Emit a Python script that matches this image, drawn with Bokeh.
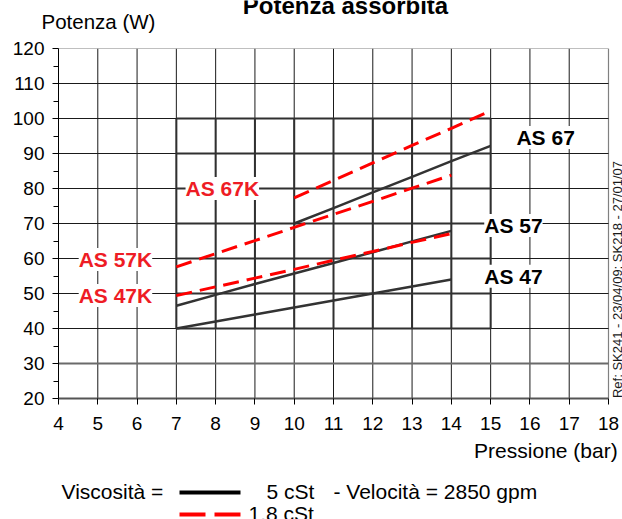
import numpy as np
from bokeh.plotting import figure
from bokeh.layouts import column
from bokeh.models import Range1d, FixedTicker, LabelSet, ColumnDataSource
from bokeh.embed import file_html
from bokeh.resources import INLINE
from bokeh.core.properties import value

# ---- data ----
p_as47 = [7, 8, 9, 10, 11, 12, 13, 14]
w_as47 = [40, 42, 44, 46, 48, 50, 52, 54]
p_as57 = [7, 8, 9, 10, 11, 12, 13, 14]
w_as57 = [46.5, 49.6, 52.7, 55.7, 58.7, 61.8, 64.9, 67.9]
p_as67 = [10, 11, 12, 13, 14, 15]
w_as67 = [70, 74.4, 78.9, 83.3, 87.8, 92.2]
p_as47k = [7, 8, 9, 10, 11, 12, 13, 14]
w_as47k = [49.4, 51.9, 54.4, 56.9, 59.5, 62.0, 64.6, 67.1]
p_as57k = [7, 8, 9, 10, 11, 12, 13, 14]
w_as57k = [57.6, 61.4, 65.1, 68.9, 72.6, 76.3, 80.1, 83.8]
p_as67k = [10, 11, 12, 13, 14, 15]
w_as67k = [77.3, 82.3, 87.3, 92.3, 97.2, 102.2]

x_ticks = list(range(4, 19))
y_ticks = list(range(20, 121, 10))
y_minor = list(range(25, 120, 10))

label_text = ["AS 67", "AS 57", "AS 47"]
label_x = [16.40, 15.58, 15.58]
label_y = [94.6, 69.4, 54.9]
labelk_text = ["AS 67K", "AS 57K", "AS 47K"]
labelk_x = [8.17, 5.45, 5.45]
labelk_y = [80.0, 59.7, 49.4]

title_text = "Potenza assorbita"
ylabel_text = "Potenza (W)"
xlabel_text = "Pressione  (bar)"
ref_text = "Ref: SK241 - 23/04/09; SK218 - 27/01/07"
legend_lead = "Viscosità  ="
legend_5 = "5 cSt"
legend_speed = "- Velocità = 2850 gpm"
legend_18 = "1.8 cSt"

FONT = "Liberation Sans"
RED = "#ff0000"
RED_TXT = "#ee1c25"
BLACK = "#333333"
W = 622


def no_align(fig):
    try:
        fig.frame_align = False
    except Exception:
        pass


# ---------------- top strip (title, y label) ----------------
TOP_H = 36
top = figure(width=W, height=TOP_H, output_backend="svg", toolbar_location=None,
             x_range=Range1d(0, W), y_range=Range1d(TOP_H, 0),
             x_axis_type=None, y_axis_type=None, min_border=0,
             min_border_left=0, min_border_right=0, min_border_top=0, min_border_bottom=0)
no_align(top)
top.outline_line_color = None
top.grid.visible = False
top.text(x=[345], y=[5], text=[title_text], text_font=value(FONT), text_font_size="24px",
         text_font_style="bold", text_align="center", text_baseline="alphabetic", text_color="black")
top.text(x=[41], y=[21], text=[ylabel_text], text_font=value(FONT), text_font_size="20.5px",
         text_align="left", text_baseline="middle", text_color="black")

# ---------------- main chart ----------------
FRAME_L, FRAME_R_DATA_PX = 58, 608
px_per_x = (FRAME_R_DATA_PX - FRAME_L) / (x_ticks[-1] - x_ticks[0])
x_end = x_ticks[0] + (W - FRAME_L) / px_per_x

p = figure(width=W, height=12 + 350 + 42, output_backend="svg", toolbar_location=None,
           x_range=Range1d(x_ticks[0], x_end), y_range=Range1d(20, 120),
           min_border_left=FRAME_L, min_border_right=0, min_border_top=12, min_border_bottom=42)
no_align(p)
p.background_fill_color = "white"
p.border_fill_color = "white"
p.outline_line_color = None
p.xgrid.visible = False
p.ygrid.visible = False

# grid drawn from tick lists
xg = [t for t in x_ticks if t < x_ticks[-1]]
p.segment(x0=xg, y0=[y_ticks[0]] * len(xg), x1=xg, y1=[y_ticks[-1]] * len(xg),
          line_color="#1a1a1a", line_width=1)
p.segment(x0=[x_ticks[-1]], y0=[y_ticks[0]], x1=[x_ticks[-1]], y1=[y_ticks[-1]],
          line_color="#808080", line_width=1.2)
yg = [t for t in y_ticks if 40 <= t < y_ticks[-1]]
p.segment(x0=[x_ticks[0]] * len(yg), y0=yg, x1=[x_ticks[-1]] * len(yg), y1=yg,
          line_color="#1a1a1a", line_width=1)
p.segment(x0=[x_ticks[0]], y0=[y_ticks[-1]], x1=[x_ticks[-1]], y1=[y_ticks[-1]],
          line_color="#808080", line_width=1.2)
p.segment(x0=[x_ticks[0]], y0=[30], x1=[x_ticks[-1]], y1=[30],
          line_color="#6a6a6a", line_width=2)

# darker framed region (7..15 bar, 40..100 W)
xs_in = [t for t in x_ticks if 7 <= t <= 15]
ys_in = [t for t in y_ticks if 40 <= t <= 100]
p.segment(x0=xs_in, y0=[40] * len(xs_in), x1=xs_in, y1=[100] * len(xs_in),
          line_color="#303030", line_width=2)
p.segment(x0=[7] * len(ys_in), y0=ys_in, x1=[15] * len(ys_in), y1=ys_in,
          line_color="#303030", line_width=2)

# axes
p.xaxis.ticker = FixedTicker(ticks=x_ticks)
p.yaxis.ticker = FixedTicker(ticks=y_ticks, minor_ticks=y_minor)
p.xaxis.bounds = (x_ticks[0], x_ticks[-1])
p.yaxis.bounds = (y_ticks[0], y_ticks[-1])
for ax in (p.xaxis[0], p.yaxis[0]):
    ax.major_label_text_font = FONT
    ax.major_label_text_font_size = "19px"
    ax.major_label_text_color = "black"
    ax.major_tick_line_color = "black"
    ax.major_tick_in = 0
    ax.major_tick_out = 6
    ax.minor_tick_in = 0
    ax.minor_tick_out = 5
    ax.minor_tick_line_color = "black"
p.yaxis.axis_line_color = "black"
p.yaxis.major_label_standoff = 8
p.xaxis.axis_line_color = "#555555"
p.xaxis.axis_line_width = 2
p.xaxis.major_label_standoff = 12

# curves
p.line(p_as47, w_as47, line_color=BLACK, line_width=2.5)
p.line(p_as57, w_as57, line_color=BLACK, line_width=2.5)
p.line(p_as67, w_as67, line_color=BLACK, line_width=2.5)
p.line(p_as47k, w_as47k, line_color=RED, line_width=3, line_dash="16 8")
p.line(p_as57k, w_as57k, line_color=RED, line_width=3, line_dash="16 8")
p.line(p_as67k, w_as67k, line_color=RED, line_width=3, line_dash="16 8")

# curve labels
src1 = ColumnDataSource(dict(x=label_x, y=label_y, t=label_text))
src2 = ColumnDataSource(dict(x=labelk_x, y=labelk_y, t=labelk_text))
p.add_layout(LabelSet(x="x", y="y", text="t", source=src1, text_align="center",
                      text_baseline="middle", text_font=value(FONT), text_font_size="21px",
                      text_font_style="bold", text_color="black",
                      background_fill_color="white", background_fill_alpha=1.0))
p.add_layout(LabelSet(x="x", y="y", text="t", source=src2, text_align="center",
                      text_baseline="middle", text_font=value(FONT), text_font_size="21px",
                      text_font_style="bold", text_color=RED_TXT,
                      background_fill_color="white", background_fill_alpha=1.0))

# vertical reference note at the right edge
p.text(x=[18.23], y=[54.0], text=[ref_text], angle=np.pi / 2, text_font=value(FONT),
       text_font_size="13px", text_align="center", text_baseline="middle", text_color="#1a1a1a")

# ---------------- bottom strip (x label, legend) ----------------
BOT_H = 519 - 36 - (12 + 350 + 42)
bot = figure(width=W, height=BOT_H, output_backend="svg", toolbar_location=None,
             x_range=Range1d(0, W), y_range=Range1d(BOT_H, 0),
             x_axis_type=None, y_axis_type=None, min_border=0,
             min_border_left=0, min_border_right=0, min_border_top=0, min_border_bottom=0)
no_align(bot)
bot.outline_line_color = None
bot.grid.visible = False
row1, row2 = 51, 73
bot.text(x=[623], y=[10], text=[xlabel_text], text_font=value(FONT), text_font_size="21px",
         text_align="right", text_baseline="middle", text_color="black")
bot.text(x=[61, 266, 333], y=[row1, row1, row1], text=[legend_lead, legend_5, legend_speed],
         text_font=value(FONT), text_font_size="21px", text_align="left",
         text_baseline="middle", text_color="black")
bot.text(x=[248], y=[row2], text=[legend_18], text_font=value(FONT), text_font_size="21px",
         text_align="left", text_baseline="middle", text_color="black")
bot.segment(x0=[179], y0=[row1 + 1], x1=[240], y1=[row1 + 1], line_color="black", line_width=4)
bot.segment(x0=[179], y0=[row2 + 1], x1=[240], y1=[row2 + 1], line_color=RED, line_width=4,
            line_dash="26 9")

layout = column(top, p, bot, spacing=0)
open("out.html", "w").write(file_html(layout, INLINE))
